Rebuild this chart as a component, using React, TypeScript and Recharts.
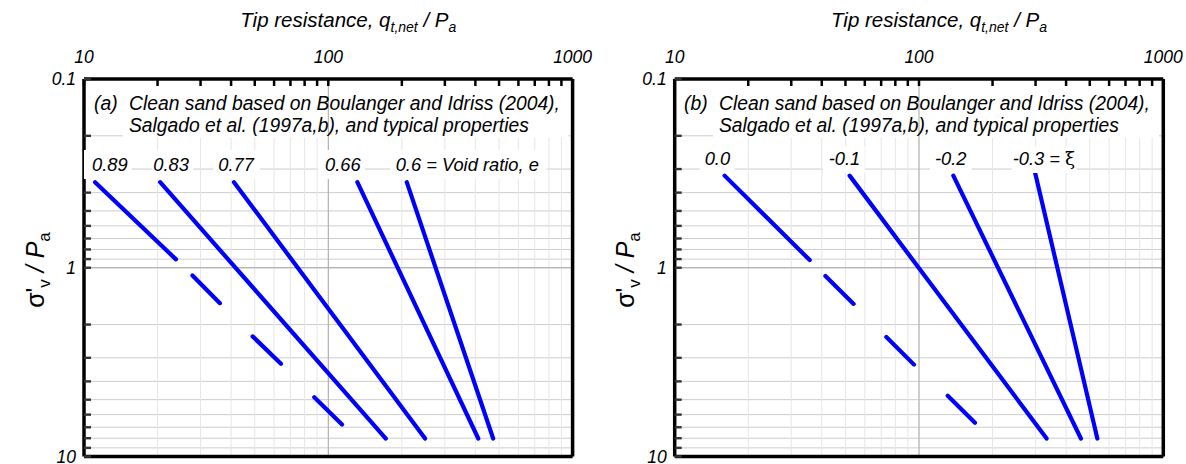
import React from 'react';
import { LineChart, Line, XAxis, YAxis, CartesianGrid, ReferenceLine, ReferenceArea } from 'recharts';

// log axes: tip resistance (top) and vertical effective stress (left, reversed)
const xTicks = [10, 20, 30, 40, 50, 60, 70, 80, 90, 100, 200, 300, 400, 500, 600, 700, 800, 900, 1000];
const yTicks = [0.1, 0.2, 0.3, 0.4, 0.5, 0.6, 0.7, 0.8, 0.9, 1, 2, 3, 4, 5, 6, 7, 8, 9, 10];
const xLabels = [10, 100, 1000];
const yLabels = [0.1, 1, 10];

// (a) void ratio lines, q = qt,net/Pa, s = sigma'v/Pa, null = break in the dashed line
const voidRatios = ['0.89', '0.83', '0.77', '0.66', '0.6 = Void ratio, e'];
const e089 = [
  { q: 11.1, s: 0.352 }, { q: 23.8, s: 0.903 }, { q: 25.7, s: null },
  { q: 27.8, s: 1.1 }, { q: 36.0, s: 1.54 }, { q: 42, s: null },
  { q: 49.0, s: 2.31 }, { q: 64.0, s: 3.23 }, { q: 75, s: null },
  { q: 87.6, s: 4.85 }, { q: 113.8, s: 6.77 },
];
const e083 = [{ q: 20.5, s: 0.352 }, { q: 172, s: 8.03 }];
const e077 = [{ q: 41.1, s: 0.352 }, { q: 249, s: 8.03 }];
const e066 = [{ q: 131.5, s: 0.352 }, { q: 411, s: 8.03 }];
const e060 = [{ q: 209.5, s: 0.352 }, { q: 473, s: 8.03 }];

// (b) state parameter lines
const xiValues = ['0.0', '-0.1', '-0.2', '-0.3 = '];
const xi00 = [
  { q: 16.0, s: 0.325 }, { q: 35.7, s: 0.911 }, { q: 38.5, s: null },
  { q: 41.4, s: 1.106 }, { q: 54.0, s: 1.554 }, { q: 63, s: null },
  { q: 73.5, s: 2.33 }, { q: 95.4, s: 3.26 }, { q: 110, s: null },
  { q: 131.1, s: 4.76 }, { q: 169.5, s: 6.63 },
];
const xi01 = [{ q: 52.0, s: 0.325 }, { q: 333, s: 8.03 }];
const xi02 = [{ q: 138.2, s: 0.325 }, { q: 460, s: 8.03 }];
const xi03 = [{ q: 298.4, s: 0.312 }, { q: 537, s: 8.03 }];

const FONT = '"Liberation Sans", Arial, sans-serif';
const BLUE = '#0000ff';
const TICK = -7; // negative tick size = ticks pointing into the plot

const tickText = { fontFamily: FONT, fontStyle: 'italic' as const, fontSize: 17.5, fill: '#000' };

// tick labels only at decades; p.x / p.y is the inner end of the tick
const TopTick = (p: any) => {
  const v = p.payload.value;
  if (!xLabels.includes(v)) return <g />;
  return <text x={p.x} y={p.y + TICK - 16} textAnchor="middle" {...tickText}>{v}</text>;
};
const LeftTick = (p: any) => {
  const v = p.payload.value;
  if (!yLabels.includes(v)) return <g />;
  return <text x={p.x + TICK - 8} y={p.y} dy="0.35em" textAnchor="end" {...tickText}>{v}</text>;
};

type Pt = { q: number; s: number | null };

type PanelProps = {
  left: number;
  width: number;
  plotLeft: number;
  plotRight: number;
  tag: string;
  series: Pt[][];
  labels: string[];
  labelXs: number[];
  labelBgs: number[][];
  labelBase: number;
  bgTop: number;
  bgBottom: number;
  xi?: boolean;
};

const H = 464;
const border = { stroke: '#000', strokeWidth: 3.5 };

const Panel = (p: PanelProps) => {
  const textStyle = { fontFamily: FONT, fontStyle: 'italic' as const, fill: '#000' };
  const midX = (p.plotLeft + p.plotRight) / 2 + 20;
  return (
    <div style={{ position: 'absolute', left: p.left, top: 0, width: p.width, height: H }}>
      <LineChart width={p.width} height={H} margin={{ top: 0, right: 0, bottom: 0, left: 0 }}>
        <CartesianGrid xAxisId="top" yAxisId="left" vertical={false} stroke="#cdcdcd" />
        <CartesianGrid xAxisId="top" yAxisId="left" horizontal={false} stroke="#e6e6e6" />
        <ReferenceLine xAxisId="top" yAxisId="left" x={100} stroke="#a8a8a8" />
        <ReferenceLine xAxisId="top" yAxisId="left" y={1} stroke="#a8a8a8" />
        <ReferenceArea xAxisId="top" yAxisId="left" x1={14.4} x2={960} y1={0.106} y2={0.205} fill="#fff" fillOpacity={1} stroke="none" />
        <XAxis xAxisId="top" orientation="top" dataKey="q" type="number" scale="log" domain={[10, 1000]} allowDataOverflow
          ticks={xTicks} interval={0} height={79} tickSize={TICK} tickMargin={0}
          tickLine={{ stroke: '#000', strokeWidth: 2.5 }} axisLine={border} tick={<TopTick />} />
        <XAxis xAxisId="bot" orientation="bottom" dataKey="q" type="number" scale="log" domain={[10, 1000]} allowDataOverflow
          ticks={xTicks} interval={0} height={7.5} tickSize={TICK} tickMargin={0}
          tickLine={{ stroke: '#333', strokeWidth: 2.4 }} axisLine={border} tick={false} />
        <YAxis yAxisId="left" type="number" scale="log" domain={[0.1, 10]} reversed allowDataOverflow
          ticks={yTicks} interval={0} width={p.plotLeft} tickSize={TICK} tickMargin={0}
          tickLine={{ stroke: '#333', strokeWidth: 2.4 }} axisLine={border} tick={<LeftTick />} />
        <YAxis yAxisId="right" orientation="right" type="number" scale="log" domain={[0.1, 10]} reversed allowDataOverflow
          ticks={yTicks} interval={0} width={p.width - p.plotRight} tickSize={TICK} tickMargin={0}
          tickLine={{ stroke: '#000', strokeWidth: 2.6 }} axisLine={border} tick={false} />
        {p.series.map((d, i) => (
          <Line key={i} xAxisId="top" yAxisId="left" data={d} dataKey="s" type="linear" stroke={BLUE}
            strokeWidth={4.2} strokeLinecap="round" dot={false} activeDot={false} connectNulls={false}
            isAnimationActive={false} />
        ))}
      </LineChart>
      <svg width={p.width} height={H} style={{ position: 'absolute', left: 0, top: 0, pointerEvents: 'none' }}>
        {/* axis titles */}
        <text x={midX} y={27} textAnchor="middle" fontSize={20.5} {...textStyle}>
          Tip resistance, q<tspan fontSize={14} dy={5}>t,net</tspan><tspan dy={-5}> / P</tspan><tspan fontSize={14} dy={5}>a</tspan>
        </text>
        <text transform={`translate(44, 270) rotate(-90)`} textAnchor="middle" fontSize={25} {...textStyle} fontStyle="normal">
          σ'<tspan fontSize={17} dy={6}>v</tspan><tspan dy={-6} fontStyle="italic"> / P</tspan><tspan fontSize={17} dy={6}>a</tspan>
        </text>
        {/* note */}
        <text x={94} y={110} fontSize={19.3} {...textStyle}>{p.tag}</text>
        <text x={129} y={110} fontSize={19.3} {...textStyle}>Clean sand based on Boulanger and Idriss (2004),</text>
        <text x={129} y={132} fontSize={19.3} {...textStyle}>Salgado et al. (1997a,b), and typical properties</text>
        {/* line labels */}
        {p.labelBgs.map((b, i) => (
          <rect key={'b' + i} x={b[0]} y={p.bgTop} width={b[1] - b[0]} height={p.bgBottom - p.bgTop} fill="#fff" />
        ))}
        {p.labels.map((l, i) => (
          <text key={'l' + i} x={p.labelXs[i]} y={p.labelBase} fontSize={18.3} {...textStyle}>
            {l}
            {p.xi && i === p.labels.length - 1 && <tspan fontStyle="normal" fontFamily='"DejaVu Serif", serif'>ξ</tspan>}
          </text>
        ))}
      </svg>
    </div>
  );
};

export default function App() {
  return (
    <div style={{ position: 'absolute', left: 0, top: 0, width: 1186, height: H, background: '#fff', overflow: 'hidden' }}>
      <Panel left={0} width={600} plotLeft={84} plotRight={572.6} tag="(a)"
        series={[e089, e083, e077, e066, e060]}
        labels={voidRatios} labelXs={[92, 153.3, 218.3, 325, 395.7]}
        labelBgs={[[84, 131.7], [151.7, 193.3], [213.3, 260], [318.3, 365], [390, 546.7]]}
        labelBase={170.5} bgTop={150} bgBottom={179} />
      <Panel left={590} width={596} plotLeft={84.7} plotRight={573.3} tag="(b)"
        series={[xi00, xi01, xi02, xi03]}
        labels={xiValues} labelXs={[114.7, 238.7, 345, 422.7]}
        labelBgs={[[109.7, 144.7], [233, 274.7], [340, 381.7], [421.7, 486.7]]}
        labelBase={165} bgTop={146} bgBottom={173} xi />
    </div>
  );
}
